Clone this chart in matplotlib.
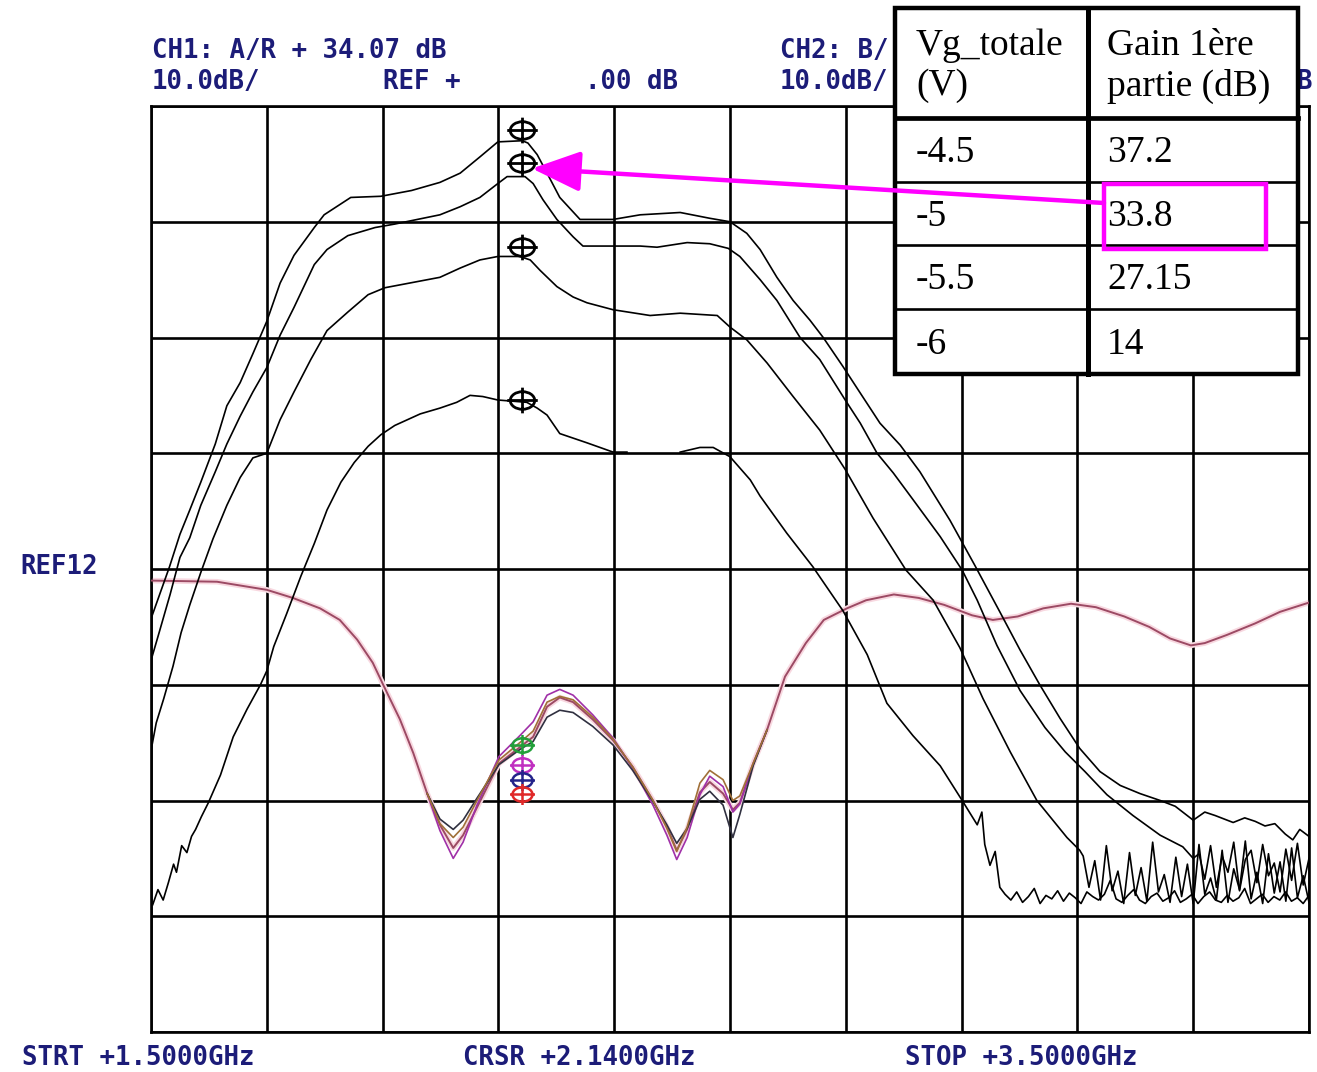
import numpy as np
import matplotlib
matplotlib.use("Agg")
import matplotlib.pyplot as plt
from matplotlib.path import Path
from matplotlib.patches import Rectangle

# ---- CH1 gain traces (GHz, dB) ----
a_f = [1.500, 1.532, 1.550, 1.567, 1.586, 1.611, 1.631, 1.654, 1.676, 1.700, 1.723, 1.747,
       1.782, 1.799, 1.845, 1.897, 1.950, 1.999, 2.034, 2.068, 2.099, 2.141, 2.151, 2.167,
       2.184, 2.206, 2.241, 2.298, 2.345, 2.414, 2.465, 2.500, 2.529, 2.552, 2.581, 2.609,
       2.638, 2.661, 2.695, 2.725, 2.759, 2.794, 2.828, 2.880, 2.923, 2.966, 3.001, 3.035,
       3.070, 3.104, 3.139, 3.174, 3.208, 3.243, 3.269, 3.300, 3.320, 3.338, 3.369, 3.389,
       3.407, 3.424, 3.441, 3.459, 3.472, 3.484, 3.500]
a_db = [-4.3, 0.2, 3.0, 5.1, 7.5, 10.8, 14.1, 16.1, 18.6, 21.4, 24.7, 27.1,
        29.5, 30.6, 32.1, 32.2, 32.7, 33.4, 34.2, 35.6, 36.9, 37.0, 36.8, 35.8,
        34.2, 32.1, 30.2, 30.2, 30.6, 30.8, 30.3, 30.0, 29.0, 27.6, 25.2, 23.2,
        21.5, 20.0, 17.5, 15.2, 12.6, 10.7, 8.4, 4.2, 0.3, -3.7, -7.0, -10.0,
        -12.9, -15.5, -17.5, -18.7, -19.4, -20.0, -20.5, -21.7, -21.0, -21.3, -21.9, -21.5,
        -21.8, -22.2, -22.0, -22.9, -23.4, -22.5, -23.1]

b_f = [1.500, 1.514, 1.533, 1.550, 1.567, 1.586, 1.611, 1.631, 1.654, 1.676, 1.700, 1.723,
       1.747, 1.782, 1.804, 1.840, 1.887, 1.921, 1.999, 2.034, 2.068, 2.099, 2.115, 2.146,
       2.160, 2.177, 2.201, 2.229, 2.246, 2.345, 2.374, 2.426, 2.465, 2.497, 2.517, 2.552,
       2.581, 2.621, 2.655, 2.699, 2.725, 2.754, 2.782, 2.816, 2.863, 2.901, 2.927, 2.961,
       3.001, 3.044, 3.079, 3.113, 3.151, 3.196, 3.243, 3.282, 3.300]
b_db = [-7.9, -5.5, -2.2, 1.0, 2.7, 5.5, 8.4, 10.8, 13.2, 15.3, 17.4, 20.2,
        22.6, 26.3, 27.6, 28.8, 29.5, 29.8, 30.6, 31.3, 32.1, 33.3, 33.9, 33.9,
        33.3, 31.9, 30.2, 28.7, 27.9, 27.9, 27.8, 28.2, 28.1, 27.7, 27.0, 25.0,
        23.2, 20.0, 18.1, 14.6, 12.6, 10.0, 8.3, 6.0, 2.8, -0.1, -2.7, -6.6,
        -10.5, -13.7, -15.8, -17.5, -19.5, -21.3, -23.0, -24.0, -25.0]
b_tail = [-24.6, -26.8, -23.9, -27.5, -24.8, -26.2, -23.6, -27.8, -25.1, -24.3,
          -27.1, -23.8, -26.5, -25.4, -27.9, -24.2, -26.9, -23.7, -27.3, -25.0]

c_f = [1.500, 1.509, 1.522, 1.538, 1.552, 1.567, 1.586, 1.607, 1.631, 1.654, 1.676, 1.700,
       1.723, 1.747, 1.776, 1.804, 1.840, 1.875, 1.904, 1.999, 2.034, 2.068, 2.099, 2.137,
       2.155, 2.172, 2.201, 2.229, 2.253, 2.298, 2.362, 2.414, 2.478, 2.500, 2.529, 2.564,
       2.609, 2.655, 2.699, 2.747, 2.804, 2.851, 2.897, 2.937, 2.984, 3.030, 3.082, 3.104]
c_db = [-15.7, -13.3, -11.2, -8.4, -5.5, -3.1, -0.3, 2.6, 5.5, 7.9, 9.6, 10.0,
        12.9, 15.3, 18.1, 20.6, 22.2, 23.7, 24.3, 25.2, 26.0, 26.7, 27.0, 27.0,
        26.7, 25.8, 24.4, 23.5, 23.0, 22.4, 21.9, 22.1, 21.9, 20.9, 19.8, 17.8,
        14.9, 12.0, 8.6, 4.4, -0.1, -2.7, -6.8, -11.2, -15.8, -20.0, -23.2, -24.3]
c_tail = [-24.8, -27.5, -25.2, -28.6, -23.9, -27.8, -26.1, -28.9, -24.5, -28.2,
          -25.8, -28.7, -23.6, -27.9, -26.4, -28.8, -24.9, -28.3, -25.5, -28.9,
          -23.8, -28.1, -26.7, -28.6, -24.3, -28.8, -25.9, -27.7, -23.5, -28.5,
          -26.2, -28.9, -24.6, -28.0, -25.3, -28.7, -24.1, -28.4, -26.5, -28.8]

d_f = [1.503, 1.512, 1.521, 1.530, 1.539, 1.544, 1.553, 1.562, 1.570, 1.577, 1.587, 1.599,
       1.620, 1.642, 1.666, 1.689, 1.700, 1.712, 1.734, 1.759, 1.782, 1.804, 1.828, 1.851,
       1.875, 1.897, 1.921, 1.965, 1.999, 2.028, 2.051, 2.073, 2.099, 2.149, 2.167, 2.184,
       2.206, 2.253, 2.298, 2.322, 2.360, 2.414, 2.448, 2.471, 2.500, 2.535, 2.552, 2.598,
       2.643, 2.695, 2.737, 2.771, 2.816, 2.863, 2.901, 2.927, 2.935, 2.940, 2.949, 2.958,
       2.966]
d_db = [-29.0, -27.7, -28.6, -27.1, -25.5, -26.2, -23.9, -24.5, -23.1, -22.5, -21.4, -20.2,
        -17.8, -14.5, -12.1, -10.0, -8.8, -6.7, -3.9, -0.6, 2.2, 5.1, 7.5, 9.2,
        10.6, 11.6, 12.4, 13.4, 13.9, 14.4, 15.0, 14.9, 14.6, 14.4, 13.9, 13.3,
        11.7, 10.9, 10.1, 10.1, np.nan, 10.1, 10.5, 10.5, 9.7, 7.7, 6.3, 3.1,
        0.2, -3.6, -7.4, -11.6, -14.4, -17.0, -20.0, -22.1, -21.0, -23.8, -25.6, -24.4,
        -27.5]
d_tail = [-28.1, -28.6, -27.9, -28.8, -28.3, -27.6, -28.9, -28.2, -28.5, -27.8, -28.7,
          -28.0, -28.4, -28.9, -27.9, -28.3, -28.6, -28.1, -26.9, -28.5, -28.8, -28.2,
          -27.7, -28.6, -28.9, -28.3, -28.0, -28.7, -28.4, -27.8, -28.8, -28.5, -28.1,
          -28.9, -28.3, -27.9, -28.6, -28.8, -28.2, -28.7, -28.4, -27.6, -28.9, -28.5,
          -28.1, -28.8, -28.3, -28.6, -27.9, -28.7, -28.4, -28.9, -28.2]

# ---- CH2 reflection traces ----
s_f = [1.500, 1.614, 1.700, 1.745, 1.792, 1.826, 1.856, 1.883, 1.901, 1.930, 1.953, 1.977,
       1.999, 2.022, 2.039, 2.063, 2.101, 2.137, 2.160, 2.184, 2.206, 2.229, 2.263, 2.298,
       2.332, 2.367, 2.391, 2.408, 2.426, 2.448, 2.465, 2.488, 2.505, 2.517, 2.540, 2.564,
       2.595, 2.631, 2.662, 2.702, 2.735, 2.783, 2.826, 2.870, 2.918, 2.954, 2.997, 3.041,
       3.089, 3.132, 3.181, 3.224, 3.260, 3.296, 3.320, 3.358, 3.407, 3.450, 3.500]
s_db = [-1.0, -1.1, -1.8, -2.5, -3.4, -4.4, -6.1, -8.1, -10.0, -13.0, -15.9, -19.4,
        -22.1, -24.1, -23.0, -20.6, -16.8, -15.4, -14.5, -11.9, -11.1, -11.5, -13.0, -14.8,
        -17.1, -20.0, -22.3, -24.3, -22.5, -19.3, -18.4, -19.4, -20.8, -20.2, -16.8, -13.9,
        -9.3, -6.4, -4.4, -3.4, -2.7, -2.2, -2.5, -3.1, -4.0, -4.4, -4.1, -3.4,
        -3.0, -3.3, -4.1, -5.0, -6.0, -6.6, -6.4, -5.7, -4.7, -3.7, -2.9]
v_f = [1.977, 1.999, 2.022, 2.039, 2.063, 2.101, 2.137, 2.160, 2.184, 2.206, 2.229, 2.263,
       2.298, 2.332, 2.367, 2.391, 2.408, 2.426, 2.448, 2.465, 2.488, 2.505, 2.517, 2.540, 2.564]
v1_db = [-19.4, -22.6, -25.0, -23.6, -20.4, -16.2, -14.4, -13.2, -10.9, -10.4, -10.9, -12.6,
         -14.6, -17.2, -20.4, -23.0, -25.1, -23.2, -19.5, -17.9, -18.8, -21.0, -20.3, -16.9, -13.9]
v2_db = [-19.4, -21.6, -22.5, -21.7, -19.8, -16.9, -15.6, -14.9, -12.8, -12.2, -12.4, -13.6,
         -15.2, -17.4, -20.1, -22.1, -23.7, -22.4, -19.9, -19.2, -20.4, -23.2, -21.2, -17.0, -13.9]
v3_db = [-19.4, -22.0, -23.2, -22.3, -20.0, -16.5, -15.0, -14.0, -11.5, -11.0, -11.3, -12.8,
         -14.7, -17.1, -20.0, -22.4, -24.4, -22.3, -18.5, -17.4, -18.2, -20.0, -19.6, -16.8, -13.9]

cursor_ghz = 2.14
ch1_markers_db = [37.9, 35.1, 27.8, 14.6]
ch2_markers_db = [-15.2, -16.9, -18.2, -19.4]
ch2_marker_colors = ["#22a03a", "#c030c0", "#24248a", "#e02828"]

table_header = ["Vg_totale\n(V)", "Gain 1ère\npartie (dB)"]
table_vg = ["-4.5", "-5", "-5.5", "-6"]
table_gain = ["37.2", "33.8", "27.15", "14"]

W, H = 1317, 1072
NAVY = "#1c1c78"


def fx(px):
    return px / W


def fy(py):
    return 1 - py / H


def crosshair_marker():
    circ = Path.unit_circle()
    ell = Path(circ.vertices * [1.0, 0.72], circ.codes)
    cross = Path([(-1.25, 0), (1.25, 0), (0, -1.05), (0, 1.05)],
                 [Path.MOVETO, Path.LINETO, Path.MOVETO, Path.LINETO])
    return Path.make_compound_path(ell, cross)


fig = plt.figure(figsize=(W / 100, H / 100), dpi=100)
fig.patch.set_facecolor("white")
ax = fig.add_axes([fx(151), fy(1032), fx(1309 - 151), (1032 - 106) / H])
ax.set_xlim(1.5, 3.5)
ax.set_ylim(-40, 40)
ax.set_xticks(np.arange(1.5, 3.51, 0.2))
ax.set_yticks(np.arange(-40, 41, 10))
ax.tick_params(length=0, labelbottom=False, labelleft=False)
ax.grid(True, color="black", lw=1.9, zorder=1)
for sp in ax.spines.values():
    sp.set_color("black")
    sp.set_linewidth(1.9)

# reflection traces (pink glow + colored variants)
ax.plot(s_f, s_db, color="#f8d8e0", lw=4, zorder=2, solid_capstyle="round")
ax.plot(s_f, s_db, color="#9c4a64", lw=1.4, zorder=3)
ax.plot(v_f, v1_db, color="#a030a8", lw=1.2, zorder=3)
ax.plot(v_f, v2_db, color="#303040", lw=1.2, zorder=3)
ax.plot(v_f, v3_db, color="#a07038", lw=1.2, zorder=3)

# gain traces
ax.plot(a_f, a_db, color="black", lw=1.2, zorder=4)
ax.plot(b_f + list(np.linspace(3.31, 3.50, len(b_tail))), b_db + b_tail,
        color="black", lw=1.2, zorder=4)
ax.plot(c_f + list(np.linspace(3.11, 3.50, len(c_tail))), c_db + c_tail,
        color="black", lw=1.2, zorder=4)
ax.plot(d_f + list(np.linspace(2.975, 3.50, len(d_tail))), d_db + d_tail,
        color="black", lw=1.2, zorder=4)

mk = crosshair_marker()
ax.plot([cursor_ghz] * len(ch1_markers_db), ch1_markers_db, ls="none", marker=mk,
        ms=22, mfc="none", mec="black", mew=2.0, zorder=6)
for val, col in zip(ch2_markers_db, ch2_marker_colors):
    ax.plot([cursor_ghz], [val], ls="none", marker=mk, ms=18, mfc="none",
            mec=col, mew=1.8, zorder=6)

# screen annotations
txt = dict(color=NAVY, fontsize=18.5, fontweight="bold", family="DejaVu Sans Mono", va="center")
fig.text(fx(152), fy(51), "CH1: A/R + 34.07 dB", **txt)
fig.text(fx(152), fy(82), "10.0dB/", **txt)
fig.text(fx(383), fy(82), "REF +", **txt)
fig.text(fx(585), fy(82), ".00 dB", **txt)
fig.text(fx(780), fy(51), "CH2: B/", **txt)
fig.text(fx(780), fy(82), "10.0dB/", **txt)
fig.text(fx(1296), fy(82), "B", **txt)
fig.text(fx(20), fy(567), "REF12", **txt)
fig.text(fx(22), fy(1058), "STRT +1.5000GHz", **txt)
fig.text(fx(463), fy(1058), "CRSR +2.1400GHz", **txt)
fig.text(fx(905), fy(1058), "STOP +3.5000GHz", **txt)

# overlay with pasted table and magenta call-out (pixel coordinates)
ov = fig.add_axes([0, 0, 1, 1], zorder=10)
ov.set_xlim(0, W)
ov.set_ylim(H, 0)
ov.axis("off")
ov.patch.set_alpha(0)

x0, x1, xm = 895, 1298, 1088
y_rows = [8, 118, 182, 245, 309, 374]
ov.add_patch(Rectangle((x0, y_rows[0]), x1 - x0, y_rows[-1] - y_rows[0],
                       facecolor="white", edgecolor="black", lw=3.2, zorder=1))
ov.plot([xm, xm], [y_rows[0], y_rows[-1]], color="black", lw=3.6, zorder=2)
ov.plot([x0, x1], [y_rows[1], y_rows[1]], color="black", lw=3.4, zorder=2)
for yy in y_rows[2:-1]:
    ov.plot([x0, x1], [yy, yy], color="black", lw=1.9, zorder=2)

serif = dict(family="Liberation Serif", fontsize=27, color="black", zorder=3)
ov.text(916, 66, table_header[0], va="center", linespacing=1.2, **serif)
ov.text(1107, 66, table_header[1], va="center", linespacing=1.2, **serif)
for i, (vg, gn) in enumerate(zip(table_vg, table_gain)):
    yc = (y_rows[i + 1] + y_rows[i + 2]) / 2 + 3
    ov.text(916, yc, vg, va="center", **serif)
    ov.text(1107, yc, gn, va="center", **serif)

ov.add_patch(Rectangle((1104, 184), 162, 65, facecolor="none", edgecolor="#ff00ff",
                       lw=3.2, zorder=4))
ov.annotate("", xy=(2.158, 34.6), xycoords=ax.transData, xytext=(1104, 203),
            textcoords="data",
            arrowprops=dict(arrowstyle="-|>,head_length=0.6,head_width=0.25",
                            mutation_scale=50, color="#ff00ff", lw=3.2,
                            shrinkA=0, shrinkB=0), zorder=5)

fig.savefig("out.png", dpi=100, facecolor="white")
